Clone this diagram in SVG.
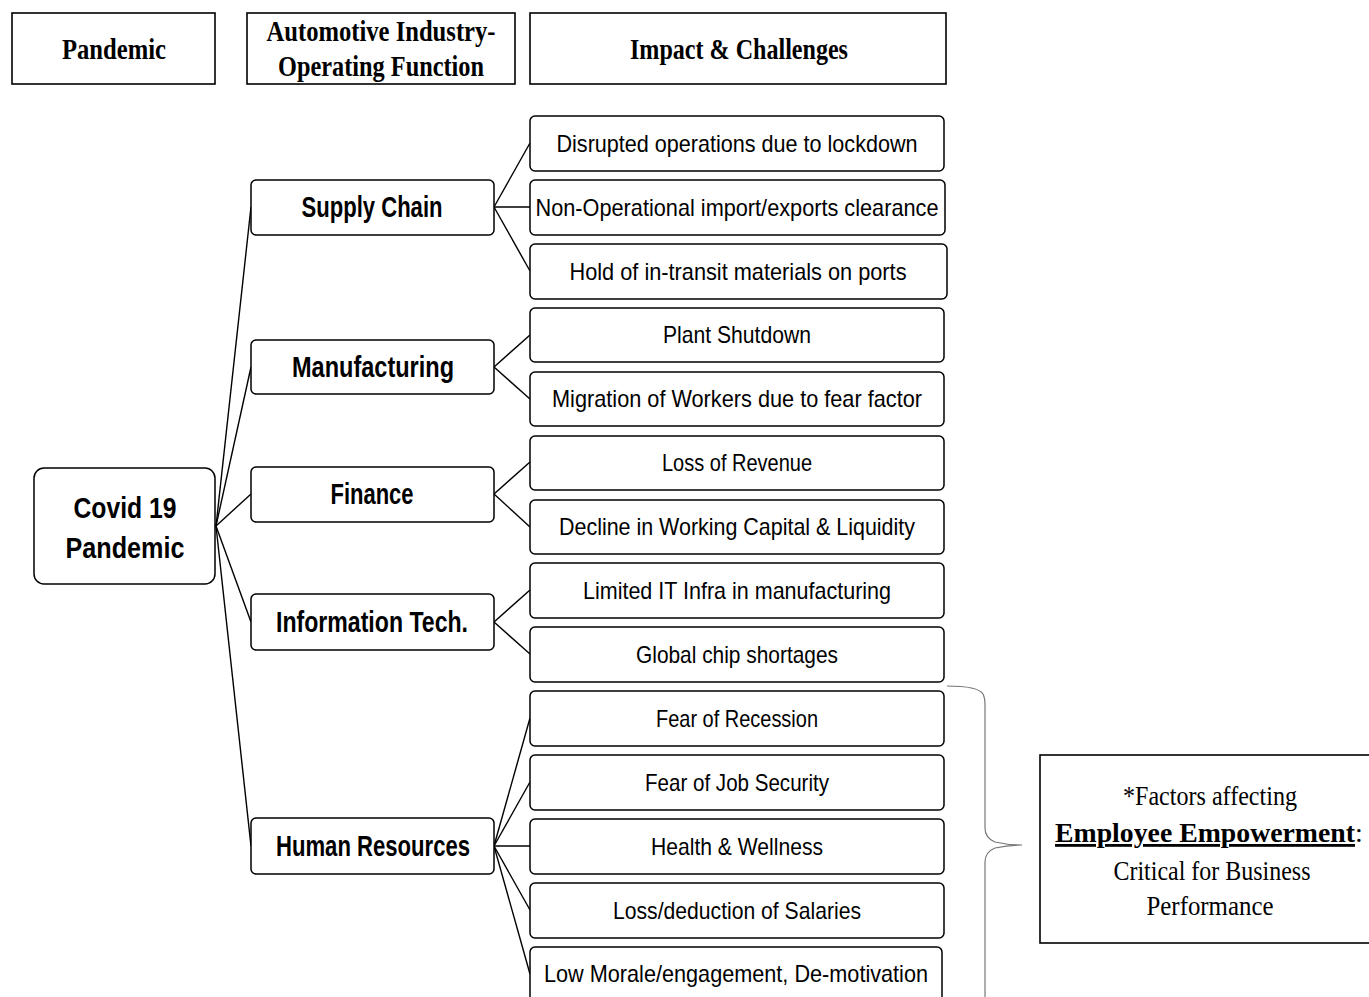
<svg xmlns="http://www.w3.org/2000/svg" width="1369" height="997" viewBox="0 0 1369 997">
<style>
.hdr{fill:#fff;stroke:#000;stroke-width:1.6}
.hdrt{font-family:"Liberation Serif",serif;font-weight:bold;font-size:29px;fill:#000;text-anchor:middle}
.node{fill:#fff;stroke:#000;stroke-width:1.5}
.mid{font-family:"Liberation Sans",sans-serif;font-weight:bold;font-size:29px;fill:#000;text-anchor:middle}
.imp{font-family:"Liberation Sans",sans-serif;font-size:24px;fill:#000;text-anchor:middle}
.conn line{stroke:#000;stroke-width:1.4}
.note{font-family:"Liberation Serif",serif;font-size:28px;fill:#000;text-anchor:middle}
</style>
<rect width="1369" height="997" fill="#fff"/>
<g id="hdr-pandemic"><rect class="hdr" x="12" y="13" width="203" height="71"/><text class="hdrt" x="114" y="59" textLength="104" lengthAdjust="spacingAndGlyphs">Pandemic</text></g>
<g id="hdr-auto"><rect class="hdr" x="247" y="13" width="268" height="71"/><text class="hdrt" x="381" y="41" textLength="229" lengthAdjust="spacingAndGlyphs">Automotive Industry-</text><text class="hdrt" x="381" y="76" textLength="206" lengthAdjust="spacingAndGlyphs">Operating Function</text></g>
<g id="hdr-impact"><rect class="hdr" x="530" y="13" width="416" height="71"/><text class="hdrt" x="739" y="59" textLength="218" lengthAdjust="spacingAndGlyphs">Impact &amp; Challenges</text></g>

<g class="conn" id="connectors">
<line x1="216" y1="526" x2="251" y2="207"/>
<line x1="216" y1="526" x2="251" y2="367"/>
<line x1="216" y1="526" x2="251" y2="494"/>
<line x1="216" y1="526" x2="251" y2="622"/>
<line x1="216" y1="526" x2="251" y2="846"/>
<line x1="494" y1="207" x2="530" y2="143"/>
<line x1="494" y1="207" x2="530" y2="207"/>
<line x1="494" y1="207" x2="530" y2="271"/>
<line x1="494" y1="367" x2="530" y2="335"/>
<line x1="494" y1="367" x2="530" y2="399"/>
<line x1="494" y1="494" x2="530" y2="462"/>
<line x1="494" y1="494" x2="530" y2="527"/>
<line x1="494" y1="622" x2="530" y2="590"/>
<line x1="494" y1="622" x2="530" y2="654"/>
<line x1="494" y1="846" x2="530" y2="718"/>
<line x1="494" y1="846" x2="530" y2="782"/>
<line x1="494" y1="846" x2="530" y2="846"/>
<line x1="494" y1="846" x2="530" y2="910"/>
<line x1="494" y1="846" x2="530" y2="974"/>
</g>

<g id="covid"><rect class="node" x="34" y="468" width="181" height="116" rx="10"/><text class="mid" x="125" y="518" font-size="33" textLength="103" lengthAdjust="spacingAndGlyphs">Covid 19</text><text class="mid" x="125" y="558" font-size="33" textLength="119" lengthAdjust="spacingAndGlyphs">Pandemic</text></g>

<g id="supply"><rect class="node" x="251" y="180" width="243" height="55" rx="5"/><text class="mid" x="372" y="217" textLength="141" lengthAdjust="spacingAndGlyphs">Supply Chain</text></g>
<g id="manufacturing"><rect class="node" x="251" y="340" width="243" height="54" rx="5"/><text class="mid" x="373" y="377" textLength="162" lengthAdjust="spacingAndGlyphs">Manufacturing</text></g>
<g id="finance"><rect class="node" x="251" y="467" width="243" height="55" rx="5"/><text class="mid" x="372" y="504" textLength="83" lengthAdjust="spacingAndGlyphs">Finance</text></g>
<g id="it"><rect class="node" x="251" y="594" width="243" height="56" rx="5"/><text class="mid" x="372" y="632" textLength="192" lengthAdjust="spacingAndGlyphs">Information Tech.</text></g>
<g id="hr"><rect class="node" x="251" y="818" width="243" height="56" rx="5"/><text class="mid" x="373" y="856" textLength="194" lengthAdjust="spacingAndGlyphs">Human Resources</text></g>

<g id="i1"><rect class="node" x="530" y="116" width="414" height="55" rx="5"/><text class="imp" x="737" y="152" textLength="361" lengthAdjust="spacingAndGlyphs">Disrupted operations due to lockdown</text></g>
<g id="i2"><rect class="node" x="530" y="180" width="415" height="55" rx="5"/><text class="imp" x="737" y="216" textLength="403" lengthAdjust="spacingAndGlyphs">Non-Operational import/exports clearance</text></g>
<g id="i3"><rect class="node" x="530" y="244" width="417" height="55" rx="5"/><text class="imp" x="738" y="280" textLength="337" lengthAdjust="spacingAndGlyphs">Hold of in-transit materials on ports</text></g>
<g id="i4"><rect class="node" x="530" y="308" width="414" height="54" rx="5"/><text class="imp" x="737" y="343" textLength="148" lengthAdjust="spacingAndGlyphs">Plant Shutdown</text></g>
<g id="i5"><rect class="node" x="530" y="372" width="414" height="54" rx="5"/><text class="imp" x="737" y="407" textLength="370" lengthAdjust="spacingAndGlyphs">Migration of Workers due to fear factor</text></g>
<g id="i6"><rect class="node" x="530" y="436" width="414" height="54" rx="5"/><text class="imp" x="737" y="471" textLength="150" lengthAdjust="spacingAndGlyphs">Loss of Revenue</text></g>
<g id="i7"><rect class="node" x="530" y="500" width="414" height="54" rx="5"/><text class="imp" x="737" y="535" textLength="356" lengthAdjust="spacingAndGlyphs">Decline in Working Capital &amp; Liquidity</text></g>
<g id="i8"><rect class="node" x="530" y="563" width="414" height="55" rx="5"/><text class="imp" x="737" y="599" textLength="308" lengthAdjust="spacingAndGlyphs">Limited IT Infra in manufacturing</text></g>
<g id="i9"><rect class="node" x="530" y="627" width="414" height="55" rx="5"/><text class="imp" x="737" y="663" textLength="202" lengthAdjust="spacingAndGlyphs">Global chip shortages</text></g>
<g id="i10"><rect class="node" x="530" y="691" width="414" height="55" rx="5"/><text class="imp" x="737" y="727" textLength="162" lengthAdjust="spacingAndGlyphs">Fear of Recession</text></g>
<g id="i11"><rect class="node" x="530" y="755" width="414" height="55" rx="5"/><text class="imp" x="737" y="791" textLength="184" lengthAdjust="spacingAndGlyphs">Fear of Job Security</text></g>
<g id="i12"><rect class="node" x="530" y="819" width="414" height="55" rx="5"/><text class="imp" x="737" y="855" textLength="172" lengthAdjust="spacingAndGlyphs">Health &amp; Wellness</text></g>
<g id="i13"><rect class="node" x="530" y="883" width="414" height="55" rx="5"/><text class="imp" x="737" y="919" textLength="248" lengthAdjust="spacingAndGlyphs">Loss/deduction of Salaries</text></g>
<g id="i14"><rect class="node" x="530" y="947" width="412" height="70" rx="5"/><text class="imp" x="736" y="982" textLength="384" lengthAdjust="spacingAndGlyphs">Low Morale/engagement, De-motivation</text></g>

<g id="brace"><path d="M947,686 Q978,686 983,694 Q985,698 985,705 L985,828 Q985,838 995,842 Q1008,845 1022,845 Q1008,845 995,848 Q985,852 985,862 L985,997" fill="none" stroke="#777" stroke-width="1.2"/></g>

<g id="note"><rect x="1040" y="755" width="340" height="188" fill="#fff" stroke="#000" stroke-width="1.6"/>
<text class="note" x="1210" y="805" textLength="174" lengthAdjust="spacingAndGlyphs">*Factors affecting</text>
<text class="note" x="1055" y="842" style="text-anchor:start"><tspan font-weight="bold" text-decoration="underline" textLength="300" lengthAdjust="spacingAndGlyphs">Employee Empowerment</tspan><tspan>:</tspan></text>
<text class="note" x="1212" y="880" textLength="197" lengthAdjust="spacingAndGlyphs">Critical for Business</text>
<text class="note" x="1210" y="915" textLength="127" lengthAdjust="spacingAndGlyphs">Performance</text>
</g>
</svg>
